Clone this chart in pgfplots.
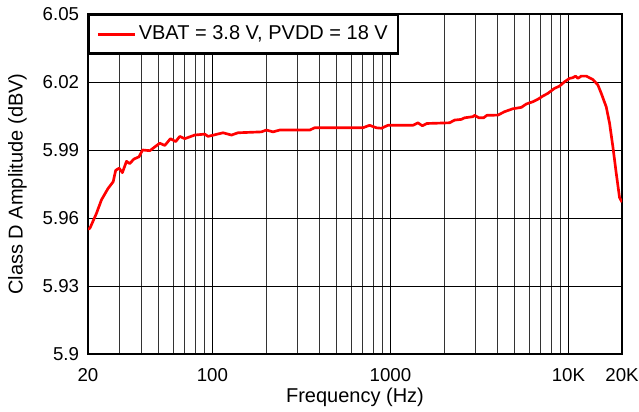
\documentclass[border=0pt]{standalone}
\usepackage{fontspec}
\setmainfont{Liberation Sans}
\usepackage{pgfplots}
\pgfplotsset{compat=1.18}
\usetikzlibrary{calc}
\begin{document}
\fontsize{15}{17}\selectfont
\begin{tikzpicture}
\begin{axis}[
  xmode=log,
  scale only axis,
  width=400.5pt, height=255pt,
  xmin=20, xmax=20000, ymin=5.9, ymax=6.05,
  xtick={20,100,1000,10000,20000},
  xticklabels={20,100,1000,10K,20K},
  minor xtick={30,40,50,60,70,80,90,200,300,400,500,600,700,800,900,2000,3000,4000,5000,6000,7000,8000,9000},
  ytick={5.9,5.93,5.96,5.99,6.02,6.05},
  yticklabels={5.9,5.93,5.96,5.99,6.02,6.05},
  /pgf/number format/assume math mode=true,
  grid=both,
  major grid style={black, line width=0.6pt},
  minor grid style={black!80, line width=0.6pt},
  axis line style={black, line width=2.2pt},
  major tick length=0pt, minor tick length=0pt,
  tick style={draw=none},
  tick label style={font=\fontsize{14}{16}\selectfont},
  xticklabel style={inner sep=0pt, yshift=-10.5pt},
  yticklabel style={xshift=-1.5pt},
  every axis x label/.style={at={(rel axis cs:0.5,0)}, yshift=-32.5pt, anchor=center, inner sep=0pt},
  every axis y label/.style={at={(rel axis cs:0,0.5)}, xshift=-53pt, rotate=90, anchor=center},
  label style={font=\fontsize{15}{17}\selectfont},
  xlabel={Frequency (Hz)},
  ylabel={Class D Amplitude (dBV)},
  legend style={at={(rel axis cs:0,1)}, anchor=north west, draw=black, line width=1.8pt,
    inner xsep=5.5pt, inner ysep=6pt, font=\fontsize{15}{17}\selectfont, fill=white},
  legend cell align=left,
  legend image code/.code={\draw[#1] (0pt,0pt) -- (27.7pt,0pt);},
]
\addplot[red, line width=2pt, line join=round] coordinates {
(20,5.955) (20.5,5.9555) (22.3,5.962) (23.8,5.968) (25.9,5.973) (27.7,5.976)
(28.6,5.981) (29.9,5.982) (31.2,5.980) (32.9,5.985) (34.3,5.984) (36.2,5.986)
(38.7,5.987) (40.5,5.990) (44.5,5.9897) (50.6,5.993) (54.0,5.992) (58.1,5.995)
(62.2,5.9937) (65.5,5.996) (69.9,5.995) (79.6,5.9966) (90.5,5.997) (94.5,5.996)
(114.7,5.9976) (127.9,5.9966) (139.3,5.9976) (188.4,5.998) (201,5.9988) (219,5.998)
(238.8,5.9988) (352,5.9988) (375.4,5.9998) (700,5.9998) (764,6.0009) (833.6,5.9998)
(889.5,5.9996) (968.6,6.0009) (1338,6.0009) (1427,6.002) (1510,6.0007) (1603,6.0017)
(2149,6.002) (2293,6.0032) (2501,6.0035) (2611,6.0042) (2907,6.0047) (2971,6.0053)
(3141,6.0042) (3338,6.0042) (3483,6.0053) (4015,6.0054) (4378,6.0069) (4874,6.0082)
(5435,6.0088) (5798,6.0103) (6317,6.0113) (6737,6.0124) (7187,6.0138) (7667,6.0150)
(8357,6.0172) (8915,6.0182) (9510,6.0201) (10145,6.0216) (10589,6.0219) (10964,6.0226)
(11295,6.0216) (11802,6.0226) (12593,6.0226) (13720,6.0211) (14632,6.0187) (15290,6.015)
(16312,6.009) (17025,6.0018) (17768,5.9915) (18566,5.9797) (19370,5.969) (20000,5.967)
};
\addlegendentry{VBAT = 3.8 V, PVDD = 18 V}
\end{axis}
\pgfresetboundingbox
\path[use as bounding box] ($(current axis.south west)+(-66pt,-42.75pt)$) rectangle ($(current axis.north east)+(12.75pt,10.5pt)$);
\end{tikzpicture}
\end{document}
